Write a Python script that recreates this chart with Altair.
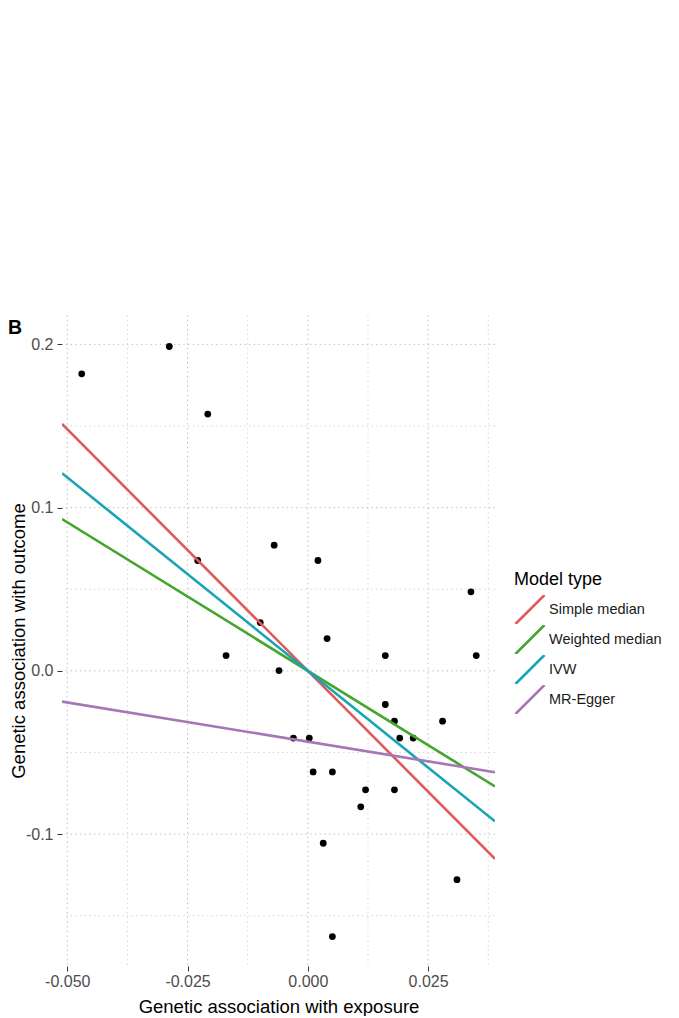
import altair as alt
import pandas as pd

# ---- data ----
pt_x = [-0.0470, -0.0288, -0.0208, -0.0229, -0.0070, 0.0021, -0.0099, -0.0170,
        -0.0060, 0.0040, 0.0161, 0.0339, 0.0350, 0.0161, 0.0180, 0.0280,
        -0.0030, 0.0003, 0.0191, 0.0219, 0.0011, 0.0051, 0.0120, 0.0180,
        0.0110, 0.0032, 0.0310, 0.0051]
pt_y = [0.1820, 0.1987, 0.1573, 0.0676, 0.0770, 0.0676, 0.0296, 0.0094,
        0.0002, 0.0198, 0.0094, 0.0484, 0.0094, -0.0206, -0.0308, -0.0308,
        -0.0412, -0.0412, -0.0412, -0.0412, -0.0619, -0.0619, -0.0729, -0.0729,
        -0.0833, -0.1056, -0.1279, -0.1628]

models = ["Simple median", "Weighted median", "IVW", "MR-Egger"]
slopes = [-2.96, -1.82, -2.37, -0.481]
intercepts = [0.0, 0.0, 0.0, -0.0434]
colors = ["#E0595B", "#46A52E", "#17A5B5", "#A875B6"]

x_major = [-0.05, -0.025, 0.0, 0.025]
x_minor = [-0.0375, -0.0125, 0.0125, 0.0375]
y_major = [-0.1, 0.0, 0.1, 0.2]
y_minor = [-0.15, -0.05, 0.05, 0.15]

X_MIN, X_MAX = -0.0511, 0.0389
Y_MIN, Y_MAX = -0.1808, 0.218

W, H = 433, 651
FONT = "Liberation Sans"

xscale = alt.Scale(domain=[X_MIN, X_MAX], nice=False, zero=False)
yscale = alt.Scale(domain=[Y_MIN, Y_MAX], nice=False, zero=False)

xaxis = alt.Axis(values=x_major, format=".3f", grid=False, domain=False,
                 labelExpr="replace(datum.label, '\u2212', '-')",
                 tickColor="#333333", tickSize=5, tickWidth=1,
                 labelColor="#4D4D4D", labelFontSize=16, labelFont=FONT,
                 labelPadding=2, title="Genetic association with exposure",
                 titleFont=FONT, titleFontSize=18.5, titleFontWeight="normal",
                 titleColor="#000000", titleY=46, titleBaseline="alphabetic")
yaxis = alt.Axis(values=y_major, format=".1f", grid=False, domain=False,
                 labelExpr="replace(datum.label, '\u2212', '-')",
                 tickColor="#333333", tickSize=5, tickWidth=1,
                 labelColor="#4D4D4D", labelFontSize=16, labelFont=FONT,
                 labelPadding=4, title="Genetic association with outcome",
                 titleFont=FONT, titleFontSize=18.5, titleFontWeight="normal",
                 titleColor="#000000", titleX=-44, titleY=H / 2,
                 titleAngle=-90, titleBaseline="middle", titleAlign="center")

dash = [1.5, 3.2]

gx_minor = alt.Chart(pd.DataFrame({"gx": x_minor})).mark_rule(
    color="#D6D6D6", strokeWidth=1, strokeDash=dash
).encode(x=alt.X("gx:Q", scale=xscale, axis=xaxis))
gx_major = alt.Chart(pd.DataFrame({"gx": x_major})).mark_rule(
    color="#C2C2C2", strokeWidth=1, strokeDash=dash
).encode(x=alt.X("gx:Q", scale=xscale, axis=xaxis))
gy_minor = alt.Chart(pd.DataFrame({"gy": y_minor})).mark_rule(
    color="#D6D6D6", strokeWidth=1, strokeDash=dash
).encode(y=alt.Y("gy:Q", scale=yscale, axis=yaxis))
gy_major = alt.Chart(pd.DataFrame({"gy": y_major})).mark_rule(
    color="#C2C2C2", strokeWidth=1, strokeDash=dash
).encode(y=alt.Y("gy:Q", scale=yscale, axis=yaxis))

points = alt.Chart(pd.DataFrame({"x": pt_x, "y": pt_y})).mark_circle(
    size=46, color="#000000", opacity=1
).encode(
    x=alt.X("x:Q", scale=xscale, axis=xaxis),
    y=alt.Y("y:Q", scale=yscale, axis=yaxis),
)

lines = alt.Chart(pd.DataFrame({"model": models, "slope": slopes,
                                "intercept": intercepts})).transform_calculate(
    x0=f"{X_MIN}", x1=f"{X_MAX}",
    y0=f"datum.intercept + datum.slope * {X_MIN}",
    y1=f"datum.intercept + datum.slope * {X_MAX}",
).mark_rule(strokeWidth=2.6, clip=True).encode(
    x=alt.X("x0:Q", scale=xscale, axis=xaxis),
    x2="x1:Q",
    y=alt.Y("y0:Q", scale=yscale, axis=yaxis),
    y2="y1:Q",
    color=alt.Color("model:N", scale=alt.Scale(domain=models, range=colors),
                    sort=models,
                    legend=alt.Legend(
                        title="Model type", orient="none",
                        legendX=452, legendY=256,
                        symbolType="M-1,1L1,-1", symbolSize=841,
                        symbolStrokeWidth=2.6, symbolFillColor="transparent",
                        clipHeight=29,
                        titleFont=FONT, titleFontSize=18,
                        titleFontWeight="normal", titleColor="#000000",
                        titlePadding=6, labelFont=FONT, labelFontSize=14.5,
                        labelColor="#1A1A1A", labelOffset=3, rowPadding=1,
                        padding=0)),
)

tag = alt.Chart(pd.DataFrame({"t": ["B"]})).mark_text(
    align="left", baseline="alphabetic", font=FONT, fontSize=19.5,
    fontWeight="bold", color="#000000"
).encode(x=alt.value(-54), y=alt.value(19), text="t:N")

chart = alt.layer(gx_minor, gx_major, gy_minor, gy_major, points, lines, tag).properties(
    width=W, height=H,
    autosize=alt.AutoSizeParams(type="none"),
    padding={"left": 54, "top": 307, "right": 176, "bottom": 50},
    background="white",
).configure_view(stroke=None)

chart.save("out.html", embed_options={"renderer": "svg", "actions": False})
